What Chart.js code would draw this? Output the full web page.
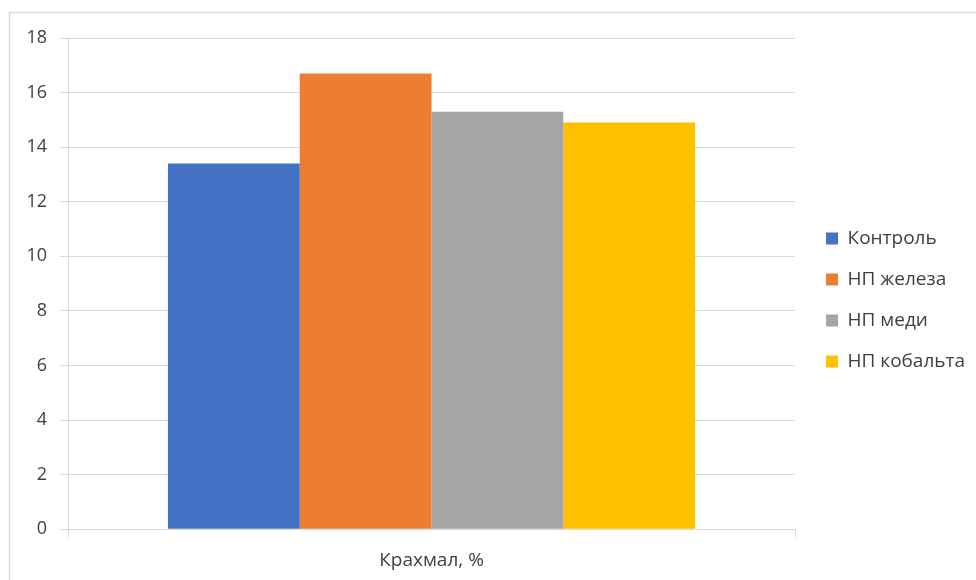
<!DOCTYPE html>
<html>
<head>
<meta charset="utf-8">
<script src="https://cdn.jsdelivr.net/npm/chart.js@4"></script>
<style>
  body { margin: 0; background: #fff; }
  #wrap { width: 976px; height: 580px; }
</style>
</head>
<body>
<div id="wrap"><canvas id="starch"></canvas></div>
<script>
const categories = ['Крахмал, %'];
const seriesNames = ['Контроль', 'НП железа', 'НП меди', 'НП кобальта'];
const control = [13.4];
const iron = [16.7];
const copper = [15.3];
const cobalt = [14.9];
const yTicks = [0, 2, 4, 6, 8, 10, 12, 14, 16, 18];

const colors = ['#4472c4', '#ed7d31', '#a5a5a5', '#ffc000'];
const labelColor = '#404040';
const fontFamily = '"Open Sans", "Liberation Sans", sans-serif';

// light frame round the whole chart, as in the spreadsheet export
const frame = {
    id: 'frame',
    beforeDraw(chart) {
        const ctx = chart.ctx;
        ctx.save();
        ctx.fillStyle = '#fff';
        ctx.fillRect(0, 0, chart.width, chart.height);
        ctx.strokeStyle = '#d9d9d9';
        ctx.lineWidth = 1.5;
        ctx.strokeRect(9.5, 12.5, chart.width + 20, chart.height + 20);
        ctx.restore();
    }
};

// nudge the legend block: a bit right of the plot and centred higher
const legendShift = {
    id: 'legendShift',
    afterLayout(chart) {
        const lg = chart.legend;
        lg.left += 9;
        lg.right += 9;
        lg.top -= 11;
        lg.bottom -= 11;
    }
};

new Chart(
    document.getElementById('starch'),
    {
    type: 'bar',
    data: {
        labels: categories,
        datasets: [control, iron, copper, cobalt].map((vals, i) => ({
            label: seriesNames[i],
            data: vals,
            backgroundColor: colors[i],
            borderWidth: 0
        }))
    },
    options: {
        responsive: true,
        maintainAspectRatio: false,
        animation: false,
        layout: {
            padding: { top: 38, left: 20, right: 10, bottom: -4 }
        },
        datasets: {
            bar: {
                categoryPercentage: 0.725,
                barPercentage: 1.0
            }
        },
        scales: {
            x: {
                grid: {
                    drawOnChartArea: false,
                    drawTicks: true,
                    tickLength: 8,
                    color: '#d9d9d9'
                },
                border: { color: '#d9d9d9' },
                ticks: {
                    color: labelColor,
                    font: { family: fontFamily, size: 19 },
                    padding: 12
                }
            },
            y: {
                min: 0,
                max: 18,
                afterBuildTicks: scale => {
                    scale.ticks = yTicks.map(v => ({ value: v }));
                },
                afterFit: scale => {
                    scale.width = 48;
                },
                grid: {
                    color: '#d9d9d9',
                    tickLength: 8
                },
                border: { color: '#d9d9d9' },
                ticks: {
                    color: labelColor,
                    font: { family: fontFamily, size: 18 },
                    padding: 13
                }
            }
        },
        plugins: {
            legend: {
                position: 'right',
                labels: {
                    boxWidth: 12,
                    boxHeight: 12,
                    padding: 22,
                    color: labelColor,
                    font: { family: fontFamily, size: 19 }
                }
            },
            tooltip: { enabled: false }
        }
    },
    plugins: [frame, legendShift]
});
</script>
</body>
</html>
